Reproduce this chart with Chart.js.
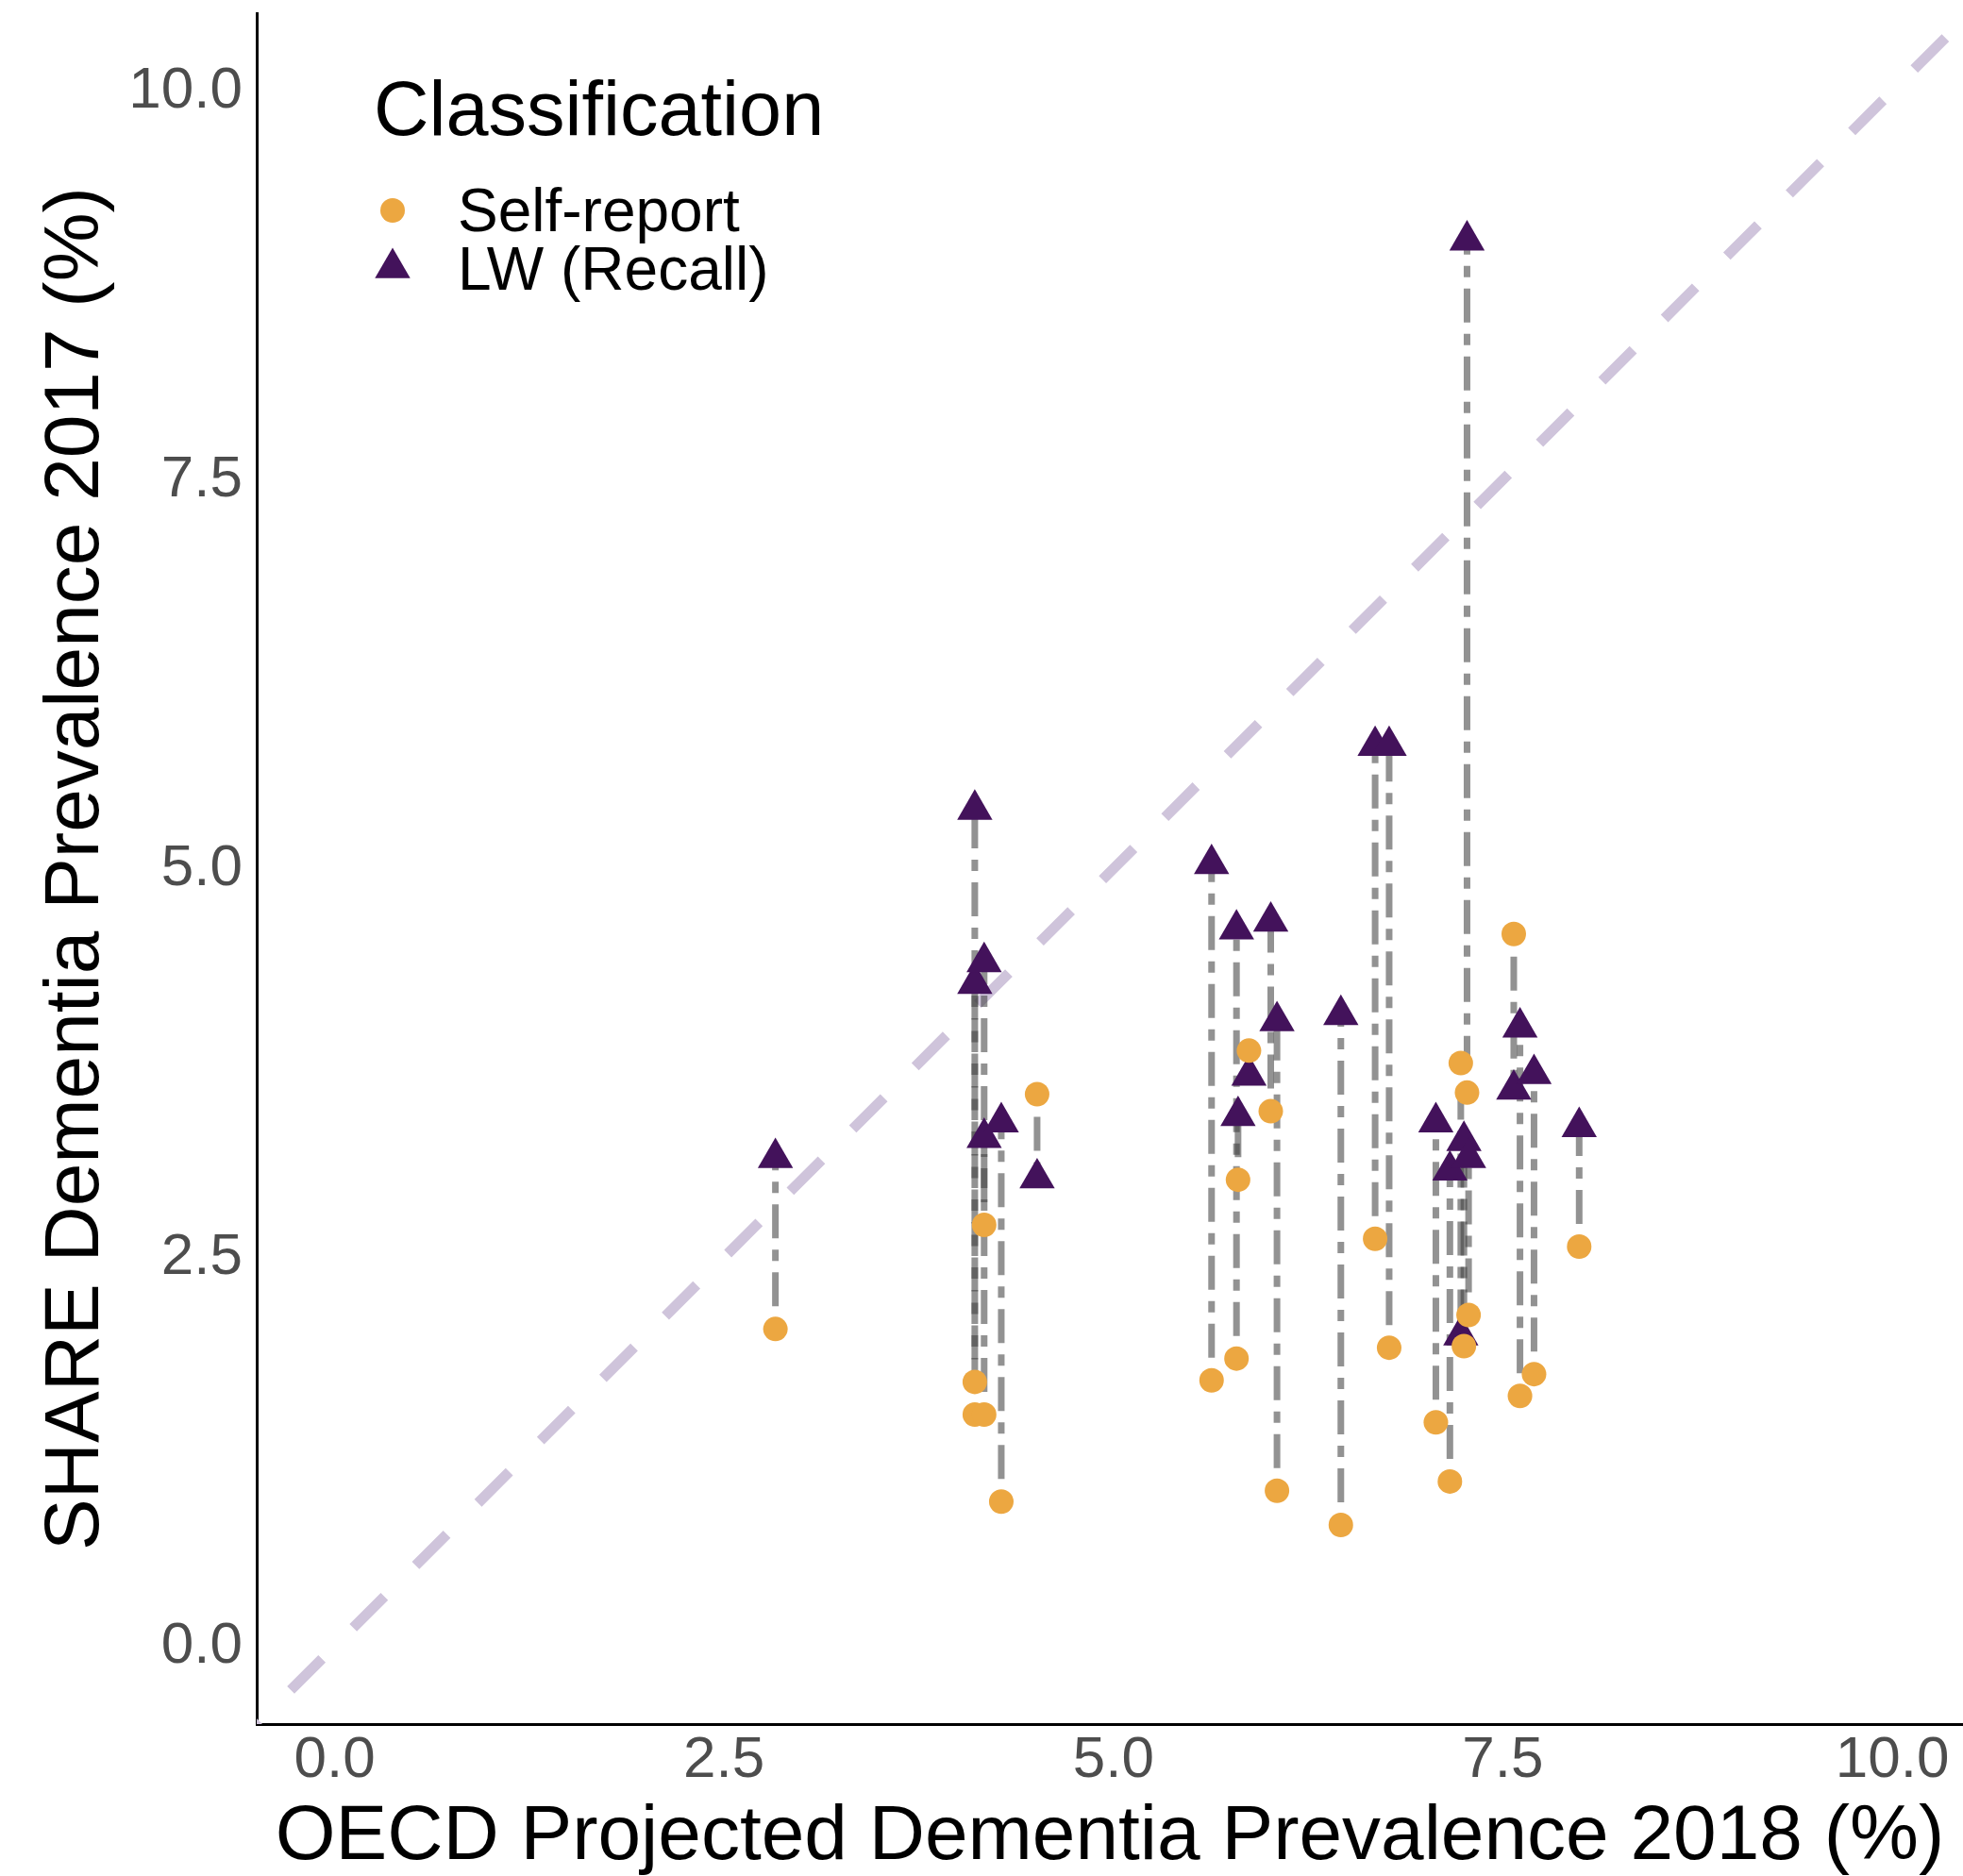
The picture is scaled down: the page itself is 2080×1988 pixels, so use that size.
<!DOCTYPE html>
<html>
<head>
<meta charset="utf-8">
<title>SHARE vs OECD dementia prevalence</title>
<script src="https://cdn.jsdelivr.net/npm/chart.js@4.4.1/dist/chart.umd.min.js"></script>
<style>
  html, body { margin: 0; padding: 0; background: #ffffff; }
  canvas { display: block; }
</style>
</head>
<body>
<canvas id="chart" width="2080" height="1988"></canvas>
<script>
// OECD projected prevalence 2018 (%) per country
const oecdPrevalence = [2.83, 4.11, 4.11, 4.17, 4.17, 4.28, 4.51, 5.63, 5.79, 5.80, 5.87, 6.01, 6.05,
                        6.46, 6.68, 6.77, 7.07, 7.16, 7.23, 7.25, 7.27, 7.28, 7.57, 7.61, 7.70, 7.99];
// SHARE 2017 prevalence (%) by classification
const selfReport = [2.04, 1.49, 1.70, 1.49, 2.71, 0.93, 3.55, 1.71, 1.85, 3.00, 3.83, 3.44, 1.00,
                    0.78, 2.62, 1.92, 1.44, 1.06, 3.75, 1.93, 3.56, 2.13, 4.58, 1.61, 1.75, 2.57];
const lwRecall   = [3.14, 5.38, 4.26, 4.40, 3.27, 3.37, 3.01, 5.03, 4.61, 3.41, 3.67, 4.66, 4.02,
                    4.06, 5.79, 5.79, 3.37, 3.06, 2.00, 3.25, 9.04, 3.14, 3.58, 3.98, 3.68, 3.34];

const seriesNames = ['Self-report', 'LW (Recall)'];
const legendTitle = 'Classification';
const xTitle = 'OECD Projected Dementia Prevalence 2018 (%)';
const yTitle = 'SHARE Dementia Prevalence 2017 (%)';
const tickValues = [0, 2.5, 5, 7.5, 10];
const tickLabels = ['0.0', '2.5', '5.0', '7.5', '10.0'];
const identityLine = [-0.5, 10.5];

const ORANGE = '#eca741';
const PURPLE = '#43125b';
const FONT = "'Liberation Sans', Arial, Helvetica, sans-serif";
Chart.defaults.font.family = FONT;

// one dash-dot connector per country, running from the self-report value to the recall value
const connectors = oecdPrevalence.map((x, i) => ({
  type: 'line',
  data: [{ x: x, y: selfReport[i] }, { x: x, y: lwRecall[i] }],
  borderColor: 'rgba(60,60,60,0.56)',
  borderWidth: 7,
  borderDash: [12, 12, 36, 12],
  borderCapStyle: 'butt',
  pointRadius: 0,
  order: 3
}));

const datasets = [
  {
    type: 'line',
    data: identityLine.map(v => ({ x: v, y: v })),
    borderColor: '#cfc4db',
    borderWidth: 11,
    borderDash: [46.75, 46.75],
    borderDashOffset: 42.5,
    borderCapStyle: 'butt',
    pointRadius: 0,
    order: 4
  },
  ...connectors,
  {
    type: 'scatter',
    label: seriesNames[1],
    data: oecdPrevalence.map((x, i) => ({ x: x, y: lwRecall[i] })),
    pointStyle: 'triangle',
    pointRadius: 21.6,
    backgroundColor: PURPLE,
    borderWidth: 0,
    pointBorderWidth: 0,
    order: 2
  },
  {
    type: 'scatter',
    label: seriesNames[0],
    data: oecdPrevalence.map((x, i) => ({ x: x, y: selfReport[i] })),
    pointStyle: 'circle',
    pointRadius: 13,
    backgroundColor: ORANGE,
    borderWidth: 0,
    pointBorderWidth: 0,
    order: 1
  }
];

// legend box drawn inside the plot panel, top-left
const legendBox = {
  id: 'legendBox',
  afterDraw(chart) {
    const ctx = chart.ctx;
    ctx.save();
    ctx.fillStyle = '#000';
    ctx.textAlign = 'left';
    ctx.textBaseline = 'alphabetic';
    ctx.font = '81px ' + FONT;
    ctx.fillText(legendTitle, 396, 143);

    ctx.font = '64px ' + FONT;
    ctx.fillText(seriesNames[0], 485, 245);
    ctx.fillText(seriesNames[1], 485, 307);

    ctx.fillStyle = ORANGE;
    ctx.beginPath();
    ctx.arc(416, 223, 13, 0, Math.PI * 2);
    ctx.fill();

    const r = 21.6, cx = 416, cy = 284;
    ctx.fillStyle = PURPLE;
    ctx.beginPath();
    for (let k = 0; k < 3; k++) {
      const a = k * 2 * Math.PI / 3;
      const px = cx + Math.sin(a) * r, py = cy - Math.cos(a) * r;
      if (k === 0) ctx.moveTo(px, py); else ctx.lineTo(px, py);
    }
    ctx.closePath();
    ctx.fill();
    ctx.restore();
  }
};

function axis(min, max, title, extra) {
  return Object.assign({
    type: 'linear',
    min: min,
    max: max,
    grid: { display: false, drawTicks: false },
    border: { display: true, color: '#000', width: 3 },
    ticks: {
      font: { size: 62 },
      color: '#4d4d4d',
      autoSkip: false,
      maxRotation: 0,
      callback: v => tickLabels[tickValues.indexOf(v)]
    },
    title: { display: true, text: title, color: '#000', font: { size: 82 } },
    afterBuildTicks: s => { s.ticks = tickValues.map(v => ({ value: v })); }
  }, extra);
}

// fixed axis box sizes; the tick labels sit inside the expanded range, so no extra edge padding
const xScale = axis(-0.5, 10.454, xTitle, {
  afterFit: s => { s.height = 161; s.paddingLeft = 0; s.paddingRight = 0; }
});
xScale.ticks.padding = 2;
xScale.title.padding = { top: 0, bottom: -9 };

const yScale = axis(-0.5, 10.5, yTitle, {
  afterFit: s => { s.width = 272; s.paddingTop = 0; s.paddingBottom = 0; }
});
yScale.ticks.padding = 15;
yScale.title.padding = { top: 32, bottom: 0 };

new Chart(document.getElementById('chart'), {
  type: 'scatter',
  data: { datasets: datasets },
  options: {
    responsive: false,
    animation: false,
    layout: { autoPadding: false, padding: { top: 14, right: 0, bottom: 0, left: 0 } },
    plugins: { legend: { display: false }, tooltip: { enabled: false } },
    scales: { x: xScale, y: yScale }
  },
  plugins: [legendBox]
});
</script>
</body>
</html>
